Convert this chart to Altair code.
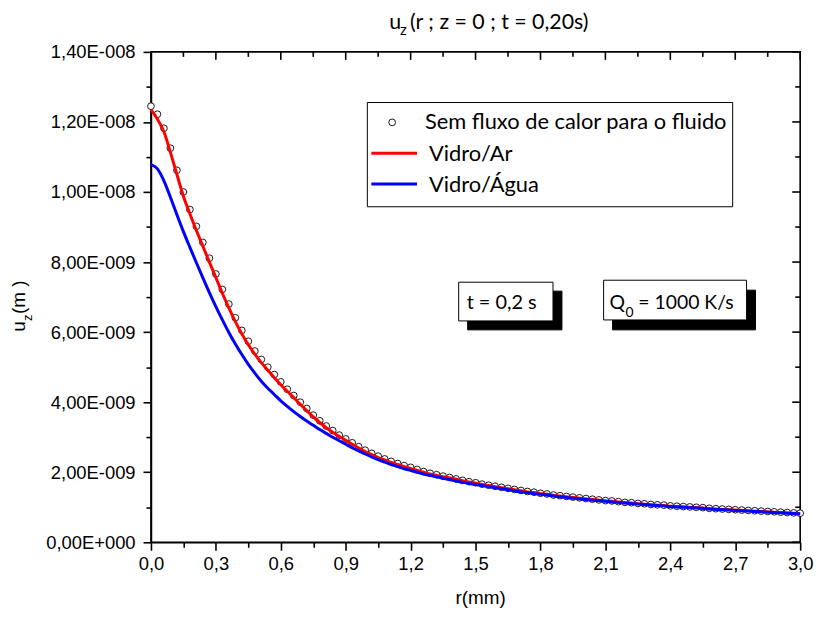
import altair as alt
import pandas as pd

# ---------------- data (values in units of 1E-9 m) ----------------
r_mm = [round(0.03 * i, 2) for i in range(101)]

sem_fluxo = [12.45, 12.22, 11.82, 11.25, 10.62, 10.00, 9.50, 9.02, 8.56, 8.11,
             7.66, 7.22, 6.80, 6.41, 6.05, 5.74, 5.46, 5.22, 5.00, 4.79,
             4.58, 4.37, 4.19, 4.00, 3.82, 3.63, 3.47, 3.32, 3.19, 3.06,
             2.95, 2.84, 2.73, 2.63, 2.54, 2.46, 2.38, 2.31, 2.25, 2.19,
             2.14, 2.08, 2.02, 1.97, 1.93, 1.89, 1.85, 1.81, 1.77, 1.73,
             1.70, 1.66, 1.63, 1.60, 1.57, 1.54, 1.51, 1.48, 1.45, 1.43,
             1.40, 1.38, 1.35, 1.33, 1.31, 1.29, 1.27, 1.25, 1.23, 1.21,
             1.19, 1.18, 1.16, 1.14, 1.13, 1.11, 1.10, 1.08, 1.07, 1.06,
             1.04, 1.03, 1.02, 1.01, 1.00, 0.99, 0.97, 0.96, 0.95, 0.94,
             0.93, 0.92, 0.91, 0.90, 0.89, 0.88, 0.87, 0.86, 0.85, 0.84,
             0.83]

vidro_ar = [12.35, 12.08, 11.72, 11.13, 10.50, 9.88, 9.38, 8.90, 8.45, 8.00,
            7.56, 7.11, 6.69, 6.30, 5.95, 5.64, 5.37, 5.13, 4.91, 4.70,
            4.50, 4.31, 4.13, 3.94, 3.76, 3.58, 3.42, 3.27, 3.14, 3.02,
            2.91, 2.80, 2.69, 2.59, 2.50, 2.42, 2.35, 2.28, 2.22, 2.16,
            2.11, 2.05, 2.00, 1.95, 1.91, 1.87, 1.84, 1.80, 1.76, 1.72,
            1.69, 1.65, 1.62, 1.59, 1.56, 1.53, 1.50, 1.47, 1.44, 1.42,
            1.39, 1.37, 1.34, 1.32, 1.30, 1.28, 1.26, 1.24, 1.22, 1.20,
            1.18, 1.17, 1.15, 1.13, 1.12, 1.10, 1.09, 1.07, 1.06, 1.05,
            1.03, 1.02, 1.01, 1.00, 0.99, 0.98, 0.96, 0.95, 0.94, 0.93,
            0.92, 0.91, 0.90, 0.89, 0.88, 0.87, 0.86, 0.85, 0.84, 0.83,
            0.82]

vidro_agua = [10.78, 10.66, 10.32, 9.85, 9.35, 8.87, 8.42, 7.98, 7.55, 7.13,
              6.73, 6.35, 5.99, 5.66, 5.36, 5.08, 4.83, 4.60, 4.40, 4.22,
              4.04, 3.88, 3.73, 3.59, 3.46, 3.34, 3.22, 3.11, 3.00, 2.90,
              2.80, 2.70, 2.61, 2.52, 2.44, 2.36, 2.29, 2.22, 2.16, 2.10,
              2.05, 2.00, 1.95, 1.91, 1.87, 1.83, 1.79, 1.75, 1.71, 1.68,
              1.65, 1.62, 1.59, 1.56, 1.53, 1.50, 1.47, 1.44, 1.42, 1.39,
              1.37, 1.35, 1.32, 1.30, 1.28, 1.26, 1.24, 1.22, 1.20, 1.19,
              1.17, 1.15, 1.14, 1.12, 1.11, 1.09, 1.08, 1.06, 1.05, 1.04,
              1.02, 1.01, 1.00, 0.99, 0.98, 0.97, 0.95, 0.94, 0.93, 0.92,
              0.91, 0.90, 0.89, 0.88, 0.87, 0.86, 0.85, 0.84, 0.83, 0.82,
              0.81]

x_ticks = [0.0, 0.15, 0.3, 0.45, 0.6, 0.75, 0.9, 1.05, 1.2, 1.35, 1.5,
           1.65, 1.8, 1.95, 2.1, 2.25, 2.4, 2.55, 2.7, 2.85, 3.0]
x_major = [0.0, 0.3, 0.6, 0.9, 1.2, 1.5, 1.8, 2.1, 2.4, 2.7, 3.0]
x_minor = [0.15, 0.45, 0.75, 1.05, 1.35, 1.65, 1.95, 2.25, 2.55, 2.85]
y_ticks = list(range(0, 15))
y_major = [0, 2, 4, 6, 8, 10, 12, 14]
y_minor = [1, 3, 5, 7, 9, 11, 13]

# ---------------- layout ----------------
W, H = 654, 494
OX, OY = 152, 50          # absolute page position of the plot origin
AXF = "Liberation Sans, Arial, sans-serif"
TXF = "Lato, Carlito, Calibri, sans-serif"
LW = 1.6

xs = alt.Scale(domain=[0, 3], nice=False, zero=False)
ys = alt.Scale(domain=[0, 14], nice=False)

xaxis = alt.Axis(
    values=x_ticks, title=None, grid=False,
    domainColor="black", domainWidth=LW, tickColor="black", tickWidth=LW,
    tickSize={"condition": {"test": "round(datum.value*100) % 30 == 0", "value": 8}, "value": 5},
    labelExpr="round(datum.value*100) % 30 == 0 ? replace(format(datum.value, '.1f'), '.', ',') : ''",
    labelFont=AXF, labelFontSize=18.5, labelColor="black", labelPadding=4,
    labelFlush=False, labelOverlap=False,
)
yaxis = alt.Axis(
    values=y_ticks, title=None, grid=False,
    domainColor="black", domainWidth=LW, tickColor="black", tickWidth=LW,
    tickSize={"condition": {"test": "datum.value % 2 == 0", "value": 8}, "value": 5},
    labelExpr="datum.value % 2 == 1 ? '' : (datum.value == 0 ? '0,00E+000' : (datum.value >= 10 ? replace(format(datum.value/10, '.2f'), '.', ',') + 'E-008' : replace(format(datum.value, '.2f'), '.', ',') + 'E-009'))",
    labelFont=AXF, labelFontSize=18.5, labelColor="black", labelPadding=8,
    labelFlush=False, labelOverlap=False,
)

X = alt.X("r:Q", scale=xs, axis=xaxis)
Y = alt.Y("v:Q", scale=ys, axis=yaxis)

df_c = pd.DataFrame({"r": r_mm, "v": sem_fluxo})
df_r = pd.DataFrame({"r": r_mm, "v": vidro_ar})
df_b = pd.DataFrame({"r": r_mm, "v": vidro_agua})

circles = alt.Chart(df_c).mark_point(
    shape="circle", filled=True, fill="white", stroke="black",
    strokeWidth=0.9, size=46, opacity=1
).encode(x=X, y=Y)
red = alt.Chart(df_r).mark_line(color="#ff0000", strokeWidth=3, interpolate="monotone").encode(x=X, y=Y)
blue = alt.Chart(df_b).mark_line(color="#0000ff", strokeWidth=3, interpolate="monotone").encode(x=X, y=Y)

# mirrored ticks on top and right (inward)
top_major = alt.Chart(pd.DataFrame({"r": x_major})).mark_rule(color="black", strokeWidth=LW).encode(
    x=X, y=alt.value(0), y2=alt.value(8))
top_minor = alt.Chart(pd.DataFrame({"r": x_minor})).mark_rule(color="black", strokeWidth=LW).encode(
    x=X, y=alt.value(0), y2=alt.value(5))
right_major = alt.Chart(pd.DataFrame({"v": y_major})).mark_rule(color="black", strokeWidth=LW).encode(
    y=Y, x=alt.value(W), x2=alt.value(W - 8))
right_minor = alt.Chart(pd.DataFrame({"v": y_minor})).mark_rule(color="black", strokeWidth=LW).encode(
    y=Y, x=alt.value(W), x2=alt.value(W - 5))


def one():
    return pd.DataFrame({"k": [0]})


def txt(s, xa, ya, size, font=TXF, align="left", angle=0):
    return alt.Chart(pd.DataFrame({"t": [s]})).mark_text(
        align=align, baseline="alphabetic", fontSize=size, font=font,
        angle=angle, color="black"
    ).encode(x=alt.value(xa - OX), y=alt.value(ya - OY), text="t:N")


def box(x1, y1, x2, y2, fill="white", stroke="black", sw=1.0):
    return alt.Chart(one()).mark_rect(fill=fill, stroke=stroke, strokeWidth=sw).encode(
        x=alt.value(x1 - OX), x2=alt.value(x2 - OX), y=alt.value(y1 - OY), y2=alt.value(y2 - OY))


def hline(x1, x2, ya, color, sw=3):
    return alt.Chart(one()).mark_rule(color=color, strokeWidth=sw).encode(
        x=alt.value(x1 - OX), x2=alt.value(x2 - OX), y=alt.value(ya - OY))


legend_sym = alt.Chart(one()).mark_point(
    shape="circle", filled=True, fill="white", stroke="black", strokeWidth=0.9, size=46, opacity=1
).encode(x=alt.value(395 - OX), y=alt.value(121 - OY))

layers = [
    circles, red, blue,
    top_major, top_minor, right_major, right_minor,
    # legend
    box(370, 101, 738, 206),
    legend_sym,
    hline(374, 420, 152, "#ff0000"),
    hline(374, 420, 183, "#0000ff"),
    txt("Sem fluxo de calor para o fluido", 428, 128, 22),
    txt("Vidro/Ar", 432, 160, 22),
    txt("Vidro/Água", 432, 191, 22),
    # annotation boxes with shadows
    box(471, 291, 566, 330, fill="black", stroke="black"),
    box(462, 282, 557, 321),
    txt("t = 0,2 s", 470, 309, 20),
    box(617, 290, 761, 330, fill="black", stroke="black"),
    box(608, 280, 752, 320),
    txt("Q", 614, 309, 19.5),
    txt("0", 630, 317, 14),
    txt("= 1000 K/s", 643, 309, 19.5),
    # title
    txt("u", 392, 27, 21.5),
    txt("z", 403, 33, 15),
    txt("(r ; z = 0 ; t = 0,20s)", 413, 27, 21.5),
    # axis titles
    txt("r(mm)", 484, 606, 19, font=AXF, align="center"),
    txt("u", 25, 332, 19, font=AXF, angle=270),
    txt("z", 32, 321, 13, font=AXF, angle=270),
    txt("(m )", 25, 314, 19, font=AXF, angle=270),
]

chart = alt.layer(*layers).properties(
    width=W, height=H,
    autosize=alt.AutoSizeParams(type="none"),
    padding={"left": OX - 8, "top": OY - 8, "right": 24, "bottom": 68},
    background="white",
).configure_view(stroke="black", strokeWidth=LW)

chart.save("out.html", embed_options={"renderer": "svg", "actions": False})
